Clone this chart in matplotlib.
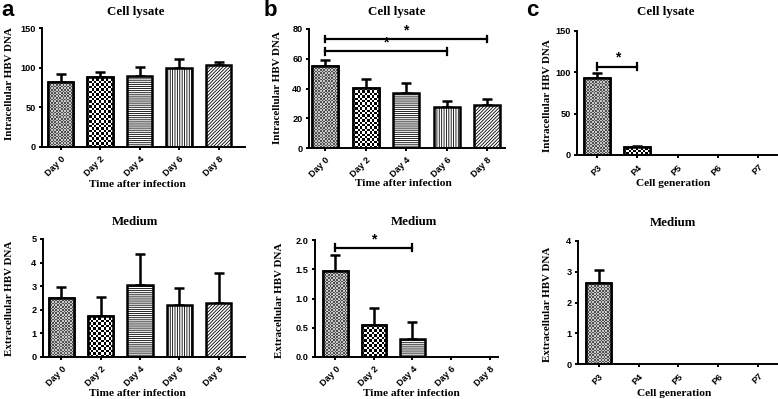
import matplotlib
matplotlib.use("Agg")
import matplotlib.pyplot as plt
import numpy as np

W, H = 778, 399
plt.rcParams['hatch.linewidth'] = 0.6

days = ["Day 0", "Day 2", "Day 4", "Day 6", "Day 8"]
gens = ["P3", "P4", "P5", "P6", "P7"]

a_lys = [82.4, 88.3, 89.6, 99.7, 103.5]
a_lys_err = [9.6, 6.5, 11.4, 11.0, 3.8]
a_med = [2.49, 1.75, 3.03, 2.20, 2.30]
a_med_err = [0.46, 0.81, 1.33, 0.74, 1.25]

b_lys = [54.8, 40.3, 36.7, 27.7, 28.6]
b_lys_err = [4.2, 6.1, 7.0, 3.8, 4.5]
b_med = [1.47, 0.55, 0.30, 0.0, 0.0]
b_med_err = [0.27, 0.28, 0.29, 0.0, 0.0]

c_lys = [92.9, 9.2, 0.0, 0.0, 0.0]
c_lys_err = [6.0, 2.1, 0.0, 0.0, 0.0]
c_med = [2.64, 0.0, 0.0, 0.0, 0.0]
c_med_err = [0.42, 0.0, 0.0, 0.0, 0.0]

# texture per category: ('img', cell_px, light, dark) or ('hatch', pattern)
styles = [('img', 1.6, 0.78, 0.32), ('img', 2.4, 1.0, 0.0),
          ('hatch', '--------'), ('hatch', '|||||||'), ('hatch', '//////////')]

fig = plt.figure(figsize=(W/100, H/100), dpi=100)

SANS = 'Liberation Sans'
SERIF = 'Liberation Serif'


def px_axes(left, right, top, bottom):
    return fig.add_axes([left/W, 1-bottom/H, (right-left)/W, (bottom-top)/H])


def panel(box, xlim, cats, vals, errs, ymax, ystep, fmt):
    left, right, top, bottom = box
    ax = px_axes(*box)
    x = np.arange(len(cats))
    width = 0.64
    bars = ax.bar(x, vals, width=width, edgecolor='black', linewidth=1.8,
                  facecolor='white', zorder=2)
    xpx = (right - left) / (xlim[1] - xlim[0])
    ypx = (bottom - top) / ymax
    for b, st, v in zip(bars, styles, vals):
        if v == 0:
            b.set_visible(False)
            continue
        if st[0] == 'hatch':
            b.set_hatch(st[1])
        else:
            cell, lo, hi = st[1], st[2], st[3]
            nc = max(2, int(round(width * xpx / cell)))
            nr = max(2, int(round(v * ypx / cell)))
            ii, jj = np.meshgrid(np.arange(nc), np.arange(nr))
            chk = np.where((ii + jj) % 2 == 0, lo, hi)
            bx0 = b.get_x()
            im = ax.imshow(chk, extent=[bx0, bx0 + width, 0, v], cmap='gray',
                           vmin=0, vmax=1, interpolation='nearest',
                           aspect='auto', zorder=2.1)
            im.set_clip_path(b)
            ax.bar([b.get_x() + width/2], [v], width=width, facecolor='none',
                   edgecolor='black', linewidth=1.8, zorder=2.2)
    for xi, v, e in zip(x, vals, errs):
        if v > 0:
            ax.errorbar([xi], [v], yerr=[[0], [e]], fmt='none', ecolor='black',
                        elinewidth=1.8, capsize=3.6, capthick=1.8, zorder=1)
    ax.set_xlim(*xlim)
    ax.set_ylim(0, ymax)
    ticks = np.arange(0, ymax + ystep/2, ystep)
    ax.set_yticks(ticks)
    ax.set_yticklabels([fmt.format(t) for t in ticks], fontfamily=SANS,
                       fontweight='bold', fontsize=6.6)
    ax.set_xticks(x)
    ax.set_xticklabels(cats, rotation=45, ha='right', rotation_mode='anchor',
                       fontfamily=SANS, fontweight='bold', fontsize=6.6)
    for s in ['top', 'right']:
        ax.spines[s].set_visible(False)
    for s in ['left', 'bottom']:
        ax.spines[s].set_linewidth(1.4)
    ax.tick_params(axis='both', width=1.4, length=2.5)
    ax.tick_params(axis='y', pad=2.2)
    ax.tick_params(axis='x', pad=3.0)
    ax.patch.set_alpha(0)
    return ax


def sig(ax, x0, x1, y, dy):
    ax.plot([x0, x1], [y, y], color='black', lw=1.6, zorder=3)
    ax.plot([x0, x0], [y - dy, y + dy], color='black', lw=1.6, zorder=3)
    ax.plot([x1, x1], [y - dy, y + dy], color='black', lw=1.6, zorder=3)
    ax.text((x0 + x1)/2, y + dy*0.5, '*', ha='center', va='bottom',
            fontfamily=SANS, fontweight='bold', fontsize=10)


# panel a
axa1 = panel((42, 245, 28, 147), (-0.47, 4.67), days, a_lys, a_lys_err, 150, 50, '{:.0f}')
axa2 = panel((43, 245, 239, 357), (-0.47, 4.67), days, a_med, a_med_err, 5, 1, '{:.0f}')
# panel b
axb1 = panel((309, 505, 29, 148), (-0.4, 4.44), days, b_lys, b_lys_err, 80, 20, '{:.0f}')
axb2 = panel((315, 498, 240, 357), (-0.53, 4.22), days, b_med, b_med_err, 2.0, 0.5, '{:.1f}')
# panel c
axc1 = panel((577, 777, 31, 155), (-0.5, 4.47), gens, c_lys, c_lys_err, 150, 50, '{:.0f}')
axc2 = panel((578, 778, 241, 364), (-0.52, 4.5), gens, c_med, c_med_err, 4, 1, '{:.0f}')

sig(axb1, 0, 4, 73.2, 2.2)
sig(axb1, 0, 3, 64.9, 2.2)
sig(axb2, 0, 2, 1.87, 0.055)
sig(axc1, 0, 1, 107, 4.2)


def ftext(x, y, s, **kw):
    fig.text(x/W, 1 - y/H, s, ha='center', va='center', **kw)

tkw = dict(fontfamily=SERIF, fontweight='bold', fontsize=9.3)
ftext(136, 12, 'Cell lysate', **tkw)
ftext(397, 12, 'Cell lysate', **tkw)
ftext(666, 12, 'Cell lysate', **tkw)
ftext(135, 222, 'Medium', **tkw)
ftext(414, 222, 'Medium', **tkw)
ftext(673, 223, 'Medium', **tkw)

xkw = dict(fontfamily=SERIF, fontweight='bold', fontsize=8.2)
ftext(137, 185, 'Time after infection', **xkw)
ftext(403, 184, 'Time after infection', **xkw)
ftext(673, 183, 'Cell generation', **xkw)
ftext(137, 393, 'Time after infection', **xkw)
ftext(411, 393, 'Time after infection', **xkw)
ftext(674, 393, 'Cell generation', **xkw)

ykw = dict(fontfamily=SERIF, fontweight='bold', fontsize=7.9, rotation=90)
ftext(10, 84, 'Intracellular HBV DNA', **ykw)
ftext(10, 298, 'Extracellular HBV DNA', **ykw)
ftext(278, 88, 'Intracellular HBV DNA', **ykw)
ftext(279, 300, 'Extracellular HBV DNA', **ykw)
ftext(547, 96, 'Intracellular HBV DNA', **ykw)
ftext(547, 304, 'Extracellular HBV DNA', **ykw)

lkw = dict(fontfamily=SANS, fontweight='bold', fontsize=16)
ftext(8, 11, 'a', **lkw)
ftext(270, 11, 'b', **lkw)
ftext(532, 11, 'c', **lkw)

fig.savefig('out.png', dpi=100)
